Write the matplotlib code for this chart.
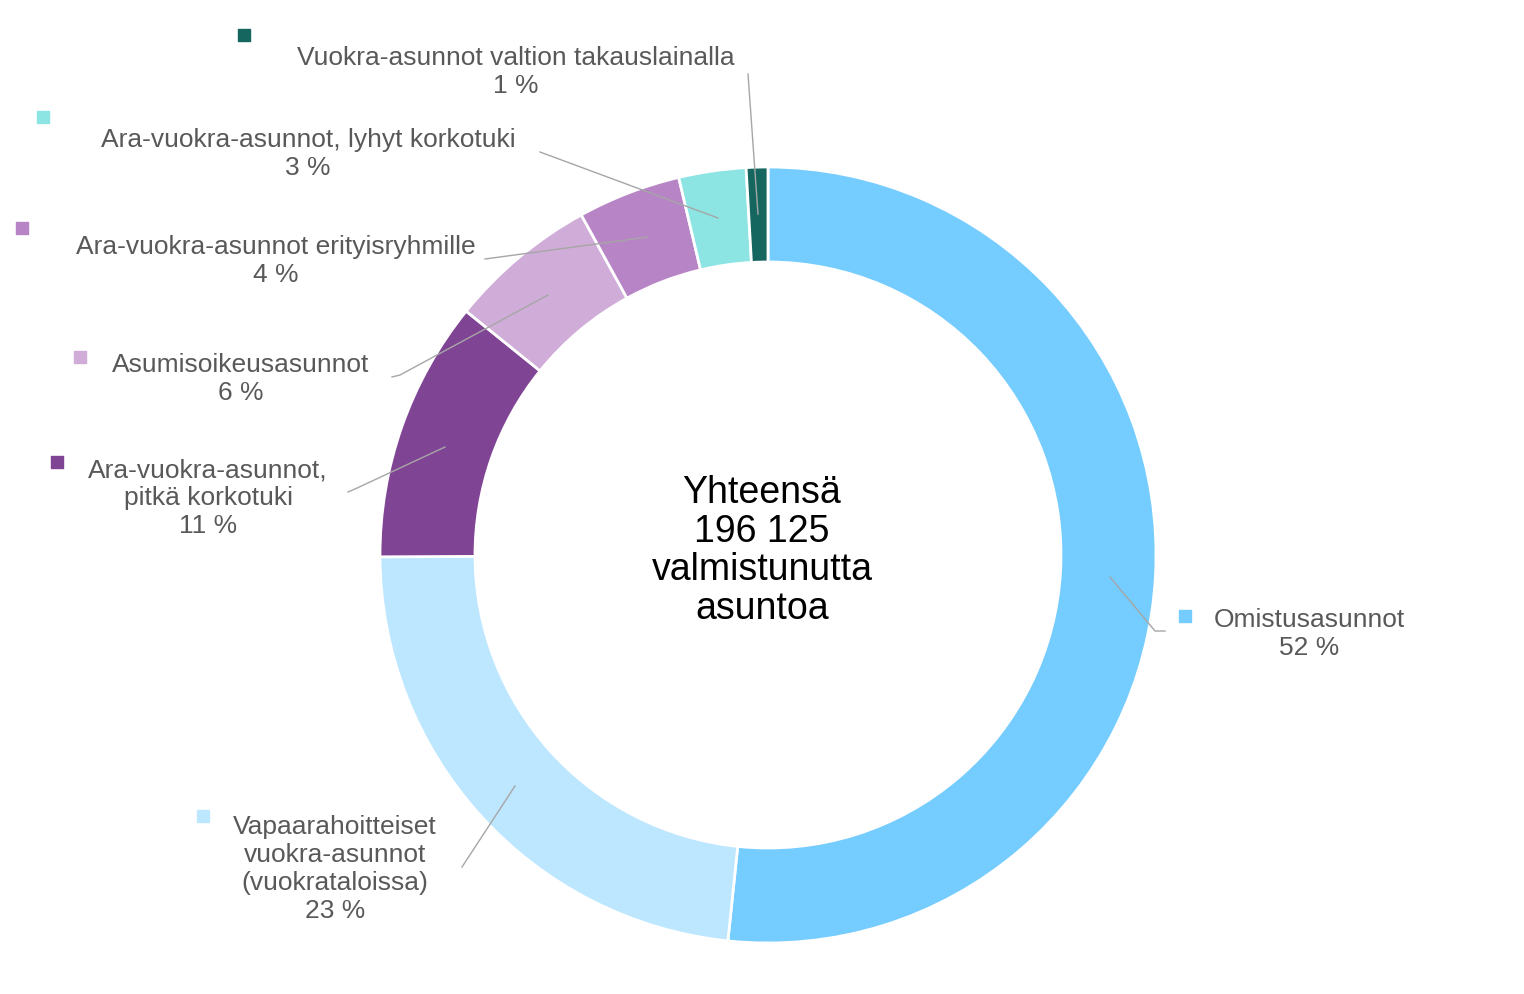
import matplotlib
matplotlib.use("Agg")
import matplotlib.pyplot as plt

# data
labels = [
    "Omistusasunnot\n52 %",
    "Vapaarahoitteiset\nvuokra-asunnot\n(vuokrataloissa)\n23 %",
    "Ara-vuokra-asunnot,\npitkä korkotuki\n11 %",
    "Asumisoikeusasunnot\n6 %",
    "Ara-vuokra-asunnot erityisryhmille\n4 %",
    "Ara-vuokra-asunnot, lyhyt korkotuki\n3 %",
    "Vuokra-asunnot valtion takauslainalla\n1 %",
]
values = [51.7, 23.3, 10.9, 6.2, 4.3, 2.8, 0.9]
colors = ["#75CCFF", "#BDE6FF", "#804494", "#D0ADD8", "#B784C6", "#8DE5E3", "#14665F"]

# layout in pixel coords (y from top)
W, H = 1524, 995
cx, cy, r_out, r_in = 768, 556, 388, 293
text_pos = [(1309, 634), (335, 869), (208, 498), (241, 379), (276, 261), (308, 154), (516, 72)]
marker_pos = [(1185, 617), (203, 817), (57, 463), (80, 358), (22, 229), (43, 118), (244, 36)]
leaders = [
    [(1110, 578), (1155, 632), (1165, 632)],
    [(515, 787), (462, 868)],
    [(445, 448), (355, 490), (348, 493)],
    [(548, 296), (400, 376), (392, 378)],
    [(648, 238), (485, 260)],
    [(718, 219), (540, 153)],
    [(758, 215), (748, 75)],
]

fig = plt.figure(figsize=(W / 100, H / 100), dpi=100)
ax = fig.add_axes([0, 0, 1, 1])

ax.pie(values, colors=colors, startangle=90, counterclock=False,
       center=(cx, H - cy), radius=r_out,
       wedgeprops=dict(width=r_out - r_in, edgecolor="white", linewidth=2))

for lab, c, (tx, ty), (mx, my), pts in zip(labels, colors, text_pos, marker_pos, leaders):
    ax.plot([p[0] for p in pts], [H - p[1] for p in pts], color="#A6A6A6", lw=1)
    ax.text(tx, H - ty, lab, ha="center", va="center", fontsize=19,
            family="Liberation Sans", color="#595959", linespacing=1.2)
    ax.scatter([mx], [H - my], marker="s", s=70, color=c, zorder=5)

ax.text(cx - 6, H - cy + 5, "Yhteensä\n196 125\nvalmistunutta\nasuntoa", ha="center",
        va="center", fontsize=27, family="Liberation Sans", color="black", linespacing=1.1)

ax.set_xlim(0, W)
ax.set_ylim(0, H)
ax.set_aspect("auto")
ax.axis("off")

fig.savefig("out.png", dpi=100)
